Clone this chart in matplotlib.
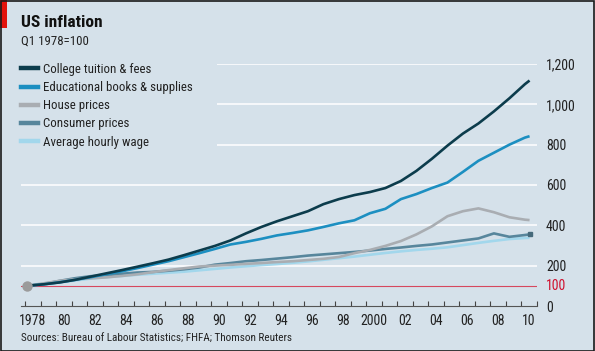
import matplotlib
matplotlib.use('Agg')
import matplotlib.pyplot as plt
from matplotlib import font_manager
from matplotlib.patches import Rectangle
from matplotlib.lines import Line2D
import numpy as np

# pick a narrow-ish sans if one is around
names = {f.name for f in font_manager.fontManager.ttflist}
FONT = 'Roboto'
for cand in ['Liberation Sans Narrow', 'Roboto Condensed', 'Roboto']:
    if cand in names:
        FONT = cand
        break
plt.rcParams['font.family'] = [FONT, 'DejaVu Sans']

# time points: Q1 1978, then roughly mid-year readings, last one mid 2010
t = np.r_[1978.1, np.arange(1979, 2011) + 0.25, 2010.55]

tuition = [100, 108, 117, 130, 146, 162, 178, 195, 212, 230, 252, 275, 298, 325,
           360, 392, 420, 445, 470, 505, 530, 550, 565, 585, 620, 670, 730, 795,
           855, 905, 965, 1030, 1100, 1118]
books = [100, 108, 118, 130, 143, 158, 172, 188, 205, 222, 242, 262, 283, 305,
         318, 333, 350, 362, 375, 392, 410, 425, 460, 482, 530, 555, 585, 612,
         665, 720, 760, 800, 835, 842]
house = [100, 113, 125, 133, 137, 142, 149, 157, 168, 178, 187, 196, 200, 204,
         209, 213, 218, 222, 228, 234, 243, 262, 278, 298, 322, 355, 395, 445,
         470, 484, 465, 440, 428, 426]
cpi = [100, 110, 125, 138, 148, 153, 160, 166, 169, 175, 182, 191, 205, 213,
       222, 228, 235, 242, 250, 256, 262, 268, 275, 283, 290, 298, 305, 315,
       325, 335, 360, 343, 352, 355]
wage = [100, 108, 117, 127, 136, 143, 149, 155, 160, 165, 170, 177, 184, 191,
        197, 203, 208, 214, 221, 229, 237, 245, 254, 263, 271, 278, 284, 291,
        302, 313, 323, 332, 337, 338]

labels = ['College tuition & fees', 'Educational books & supplies',
          'House prices', 'Consumer prices', 'Average hourly wage']
colors = ['#0c3c4c', '#1c8fc1', '#a9adb2', '#57869c', '#a2d7ec']

yticks = [0, 200, 400, 600, 800, 1000, 1200]
ytick_labels = ['0', '200', '400', '600', '800', '1,000', '1,200']
xlabel_years = np.arange(1978, 2011, 2)
xlabels = ['1978', '80', '82', '84', '86', '88', '90', '92', '94', '96', '98',
           '2000', '02', '04', '06', '08', '10']

BG = '#d5e1ea'
W, H = 595, 351


def fx(px):
    return px / W


def fy(py):
    return 1 - py / H


fig = plt.figure(figsize=(W / 100, H / 100), dpi=100)
fig.patch.set_facecolor(BG)
ax = fig.add_axes([fx(21), fy(306), fx(537) - fx(21), fy(64) - fy(306)])
ax.set_facecolor(BG)
ax.set_xlim(1977.74, 2011.03)
ax.set_ylim(0, 1200)

for s in ['top', 'left', 'right']:
    ax.spines[s].set_visible(False)
ax.spines['bottom'].set_color('#555555')
ax.spines['bottom'].set_linewidth(0.8)

ax.set_axisbelow(True)
ax.yaxis.tick_right()
ax.set_yticks(yticks)
ax.set_yticklabels(ytick_labels)
ax.tick_params(axis='y', length=0, pad=6.5, labelsize=10, labelcolor='#222222')
ax.grid(axis='y', color='white', linewidth=1.1)
ax.yaxis.get_gridlines()[0].set_visible(False)

ax.set_xticks(np.arange(1978, 2012), minor=True)
ax.set_xticks(xlabel_years + 0.5)
ax.set_xticklabels(xlabels)
ax.tick_params(axis='x', which='major', length=0, pad=6, labelsize=10,
               labelcolor='#222222')
ax.tick_params(axis='x', which='minor', length=3.5, width=0.8,
               direction='in', color='#444444')

# index base line
ax.axhline(100, color='#d6485e', linewidth=0.8, zorder=1.2)
ax.annotate('100', xy=(1, 100), xycoords=('axes fraction', 'data'),
            xytext=(6.5, 0), textcoords='offset points', ha='left',
            va='center', fontsize=10, color='#d0102e')

# box behind the legend hides gridlines
fig.patches.append(Rectangle((fx(21), fy(152)), fx(217) - fx(21),
                             fy(52) - fy(152), transform=fig.transFigure,
                             facecolor=BG, edgecolor='none', zorder=1))

series = [tuition, books, house, cpi, wage]
order = [2, 4, 3, 1, 0]
for i in order:
    ax.plot(t, series[i], color=colors[i], linewidth=1.9, zorder=3 + (4 - i),
            solid_capstyle='butt')
ax.plot(t[-1], cpi[-1], marker='s', markersize=3.5, color='#466a7b', zorder=9)
ax.plot(t[0], 100, marker='o', markersize=7.5, color='#9b9b9b',
        markeredgewidth=0, zorder=10, clip_on=False)

handles = [Line2D([], [], color=c, linewidth=3.2) for c in colors]
leg = fig.legend(handles, labels, loc='upper left',
                 bbox_to_anchor=(fx(21), fy(63)), frameon=False,
                 fontsize=9.3, handlelength=1.35, handletextpad=0.35,
                 labelspacing=0.4, borderaxespad=0, borderpad=0)
for txt in leg.get_texts():
    txt.set_color('#222222')

fig.text(fx(21), fy(27), 'US inflation', fontsize=12.5, fontweight='bold',
         color='#111111', va='baseline')
fig.text(fx(21), fy(45), 'Q1 1978=100', fontsize=9.3, color='#222222',
         va='baseline')
fig.text(fx(21), fy(342), 'Sources: Bureau of Labour Statistics; FHFA; Thomson Reuters',
         fontsize=8, color='#222222', va='baseline')

# red tag and frame
fig.patches.append(Rectangle((0, fy(28)), fx(7), fy(0) - fy(28),
                             transform=fig.transFigure, facecolor='#e3120b',
                             edgecolor='none', zorder=5))
fig.patches.append(Rectangle((0.5 / W, 0.5 / H), 1 - 1.5 / W, 1 - 1.5 / H,
                             transform=fig.transFigure, facecolor='none',
                             edgecolor='#1a1a1a', linewidth=1.2, zorder=6))

fig.savefig('out.png', dpi=100, facecolor=BG)
